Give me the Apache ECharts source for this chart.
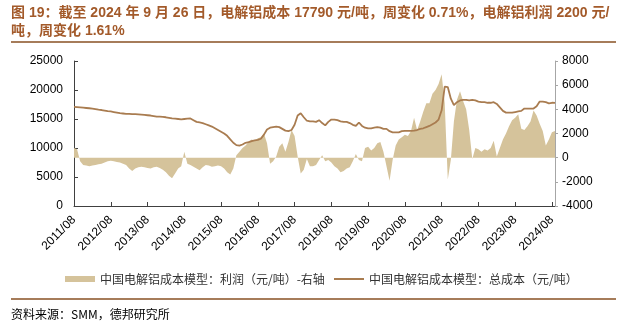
<!DOCTYPE html>
<html>
<head>
<meta charset="utf-8">
<script src="https://cdn.jsdelivr.net/npm/echarts@6/dist/echarts.min.js"></script>
<style>
html,body{margin:0;padding:0;background:#fff;}
#c{width:636px;height:328px;}
</style>
</head>
<body>
<div id="c"></div>
<script>
// Monthly categories 2011/08 .. 2024/09
var categories = [];
(function(){ var y=2011, m=8; while(!(y===2024 && m===10)){ categories.push(y+'/'+(m<10?'0'+m:m)); m++; if(m>12){m=1;y++;} } })();

var yearTickLabels = ['2011/08','2012/08','2013/08','2014/08','2015/08','2016/08','2017/08','2018/08','2019/08','2020/08','2021/08','2022/08','2023/08','2024/08'];

// 中国电解铝成本模型：总成本（元/吨）
var costValues = [
17100,17050,17000,16950,16900,16850,16800,16700,16600,16550,16450,16350,
16300,16200,16100,16000,15950,15900,15900,15850,15850,15800,15750,15700,
15650,15600,15500,15400,15400,15350,15300,15200,15100,15050,15000,14950,
15000,15050,15100,14800,14500,14400,14300,14100,13900,13700,13400,13100,
12800,12500,12100,11500,10900,10500,10400,10600,10900,11000,11200,11300,
11400,11600,12300,13200,13500,13600,13700,13600,13300,13000,12900,13100,
14000,15600,16000,15300,14700,14600,14600,14500,14800,14300,13900,14500,
14900,14900,14800,14600,14500,14500,14300,14000,13800,14400,13800,13500,
13400,13400,13500,13600,13500,13300,13300,12900,12700,12700,12700,12900,
12950,12950,12950,13000,13100,13300,13400,13600,13800,14100,14400,14900,
16500,20600,20500,18500,17400,17900,18200,18300,18300,18200,18300,18200,
18000,17900,17900,17800,17800,17900,17600,17000,16400,16100,16100,16100,
16200,16300,16400,16800,16800,16800,16800,17200,18000,18000,17900,17700,
17800,17790
];

// 中国电解铝成本模型：利润（元/吨）-右轴
var profitValues = [
800,700,-300,-600,-650,-700,-650,-600,-550,-500,-400,-300,
-250,-300,-350,-400,-500,-600,-900,-1100,-900,-800,-750,-800,
-850,-900,-800,-750,-850,-1000,-1200,-1500,-1700,-1300,-900,-700,
500,-500,-600,-750,-900,-1050,-800,-600,-650,-750,-700,-650,
-700,-900,-1200,-1400,-900,200,500,800,1000,1300,1500,1400,
1600,1700,2000,1200,-500,-300,100,900,1200,500,1300,2300,
1800,100,-1300,-1000,-100,-700,-700,-600,-200,200,-300,-200,
-400,-700,-900,-1200,-1100,-900,-800,-300,300,-200,-300,800,
900,600,800,1200,1300,500,-700,-1900,-200,1000,1500,1700,
1900,1800,2200,3300,2300,3000,3800,4500,4500,5300,5600,6100,
6900,4500,-1800,-200,3000,4800,5500,4700,4000,2300,-100,800,
700,500,700,600,800,1400,100,800,1500,2000,2600,3100,
3300,3600,2400,2300,2600,3000,3900,3500,2800,2200,1000,1500,
2100,2200
];

var leftTicks = {min:0, max:25000, interval:5000};
var rightTicks = {min:-4000, max:8000, interval:2000};

var profitName = '中国电解铝成本模型：利润（元/吨）-右轴';
var costName = '中国电解铝成本模型：总成本（元/吨）';
var titleLine1 = '图 19：截至 2024 年 9 月 26 日，电解铝成本 17790 元/吨，周变化 0.71%，电解铝利润 2200 元/';
var titleLine2 = '吨，周变化 1.61%';
var sourceText = '资料来源：SMM，德邦研究所';

var FONT = '"Liberation Sans", Arial, "Noto Sans CJK SC", sans-serif';
var CJK = '"Noto Sans CJK SC", "Liberation Sans", sans-serif';
var TAN = '#D5C39B';
var BROWN = '#A97C50';

var chart = echarts.init(document.getElementById('c'), null, {renderer:'canvas'});
var isYear = function(i){ return yearTickLabels.indexOf(categories[i]) >= 0; };
var plain = function(v){ return String(v); };

chart.setOption({
  animation:false,
  backgroundColor:'#fff',
  textStyle:{fontFamily:FONT},
  grid:{left:74, right:81, top:61, bottom:122, containLabel:false},
  legend:[
    {left:60, top:268, data:[{name:profitName, icon:'rect'}], itemWidth:30, itemHeight:6,
     textStyle:{fontSize:12, color:'#333', fontFamily:CJK}},
    {left:329, top:268, data:[{name:costName, icon:'rect'}], itemWidth:30, itemHeight:2,
     textStyle:{fontSize:12, color:'#333', fontFamily:CJK}}
  ],
  xAxis:{
    type:'category', data:categories, boundaryGap:false,
    axisLine:{onZero:false, lineStyle:{color:'#404040', width:1}},
    axisTick:{inside:true, length:4, interval:function(i){return isYear(i);}, lineStyle:{color:'#404040'}},
    axisLabel:{interval:function(i){return isYear(i);}, rotate:45, fontSize:12, color:'#000', margin:12, fontFamily:FONT},
    splitLine:{show:false}
  },
  yAxis:[
    {type:'value', min:leftTicks.min, max:leftTicks.max, interval:leftTicks.interval, position:'left',
     axisLine:{show:true, lineStyle:{color:'#404040'}},
     axisTick:{show:true, inside:true, length:4, lineStyle:{color:'#404040'}},
     axisLabel:{fontSize:12, color:'#000', margin:11, fontFamily:FONT, formatter:plain},
     splitLine:{show:false}},
    {type:'value', min:rightTicks.min, max:rightTicks.max, interval:rightTicks.interval, position:'right',
     axisLine:{show:true, lineStyle:{color:'#A6A6A6'}},
     axisTick:{show:true, inside:false, length:3, lineStyle:{color:'#A6A6A6'}},
     axisLabel:{fontSize:12, color:'#000', margin:7, fontFamily:FONT, formatter:plain},
     splitLine:{show:false}}
  ],
  series:[
    {name:profitName, type:'line', yAxisIndex:1, data:profitValues, symbol:'none',
     lineStyle:{width:0, color:TAN}, itemStyle:{color:TAN},
     areaStyle:{color:TAN, opacity:1, origin:'auto'}, z:1},
    {name:costName, type:'line', yAxisIndex:0, data:costValues, symbol:'none',
     lineStyle:{width:1.8, color:BROWN}, itemStyle:{color:BROWN}, z:2}
  ],
  graphic:[
    {type:'text', left:11, top:6, style:{text:titleLine1, font:'bold 14px '+FONT, fill:'#A35A2A'}},
    {type:'text', left:11, top:24, style:{text:titleLine2, font:'bold 14px '+FONT, fill:'#A35A2A'}},
    {type:'rect', shape:{x:11, y:41, width:605, height:2}, style:{fill:'#A67C5A'}},
    {type:'rect', shape:{x:11, y:298, width:605, height:2}, style:{fill:'#A67C5A'}},
    {type:'text', left:11, top:308, style:{text:sourceText, font:'12px '+CJK, fill:'#000'}}
  ]
});
</script>
</body>
</html>
